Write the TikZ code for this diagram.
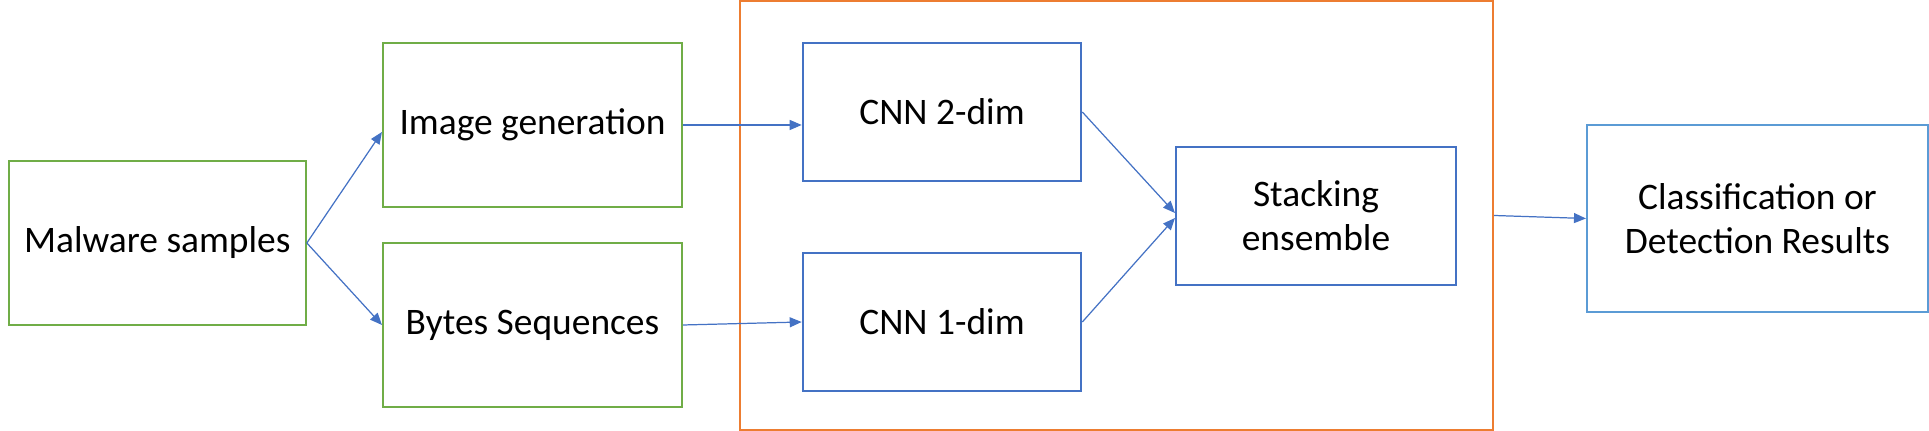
\documentclass[tikz,border=0pt]{standalone}
\usepackage{fontspec}
\setmainfont{Carlito}
\usetikzlibrary{arrows.meta,positioning}
\definecolor{boxgreen}{HTML}{70AD47}
\definecolor{boxblue}{HTML}{4472C4}
\definecolor{lightblue}{HTML}{5B9BD5}
\definecolor{frameorange}{HTML}{ED7D31}
\tikzset{
    >={Triangle[length=0.12cm,width=0.1cm]},
    every picture/.style={line width=0.6pt},
    stagebox/.style={rectangle,draw,inner sep=0pt,align=center,
        font=\fontsize{10.65}{12.5}\selectfont},
    flow/.style={->,draw=boxblue,line width=0.35pt}
}

\begin{document}
\begin{tikzpicture}
    \useasboundingbox (0,0) rectangle (19.29,4.31);

    % input side
    \node[stagebox,draw=boxgreen,minimum width=2.97cm,minimum height=1.64cm] (malware) at (1.573,1.88) {Malware samples};
    \node[stagebox,draw=boxgreen,minimum width=2.99cm,minimum height=1.64cm] (imggen) at (5.325,3.06) {Image generation};
    \node[stagebox,draw=boxgreen,minimum width=2.99cm,minimum height=1.64cm] (bytes) at (5.325,1.06) {Bytes Sequences};

    % ensemble frame
    \node[rectangle,draw=frameorange,minimum width=7.53cm,minimum height=4.29cm] (frame) at (11.165,2.155) {};
    \node[stagebox,draw=boxblue,minimum width=2.785cm,minimum height=1.38cm] (cnn2) at (9.42,3.19) {CNN 2-dim};
    \node[stagebox,draw=boxblue,minimum width=2.785cm,minimum height=1.38cm] (cnn1) at (9.42,1.09) {CNN 1-dim};
    \node[stagebox,draw=boxblue,minimum width=2.8cm,minimum height=1.38cm] (stack) at (13.16,2.15) {Stacking\\ensemble};

    % output
    \node[stagebox,draw=lightblue,minimum width=3.41cm,minimum height=1.87cm] (result) at (17.575,2.125) {Classification or\\Detection Results};

    \draw[flow] (malware.east) -- ([yshift=-0.07cm]imggen.west);
    \draw[flow] (malware.east) -- (bytes.west);
    \draw[flow] (imggen.east) -- (imggen.east -| cnn2.west);
    \draw[flow] (bytes.east) -- (cnn1.west);
    \draw[flow] (cnn2.east) -- ([yshift=0.03cm]stack.west);
    \draw[flow] (cnn1.east) -- ([yshift=-0.02cm]stack.west);
    \draw[flow] (frame.east) -- (result.west);
\end{tikzpicture}
\end{document}
